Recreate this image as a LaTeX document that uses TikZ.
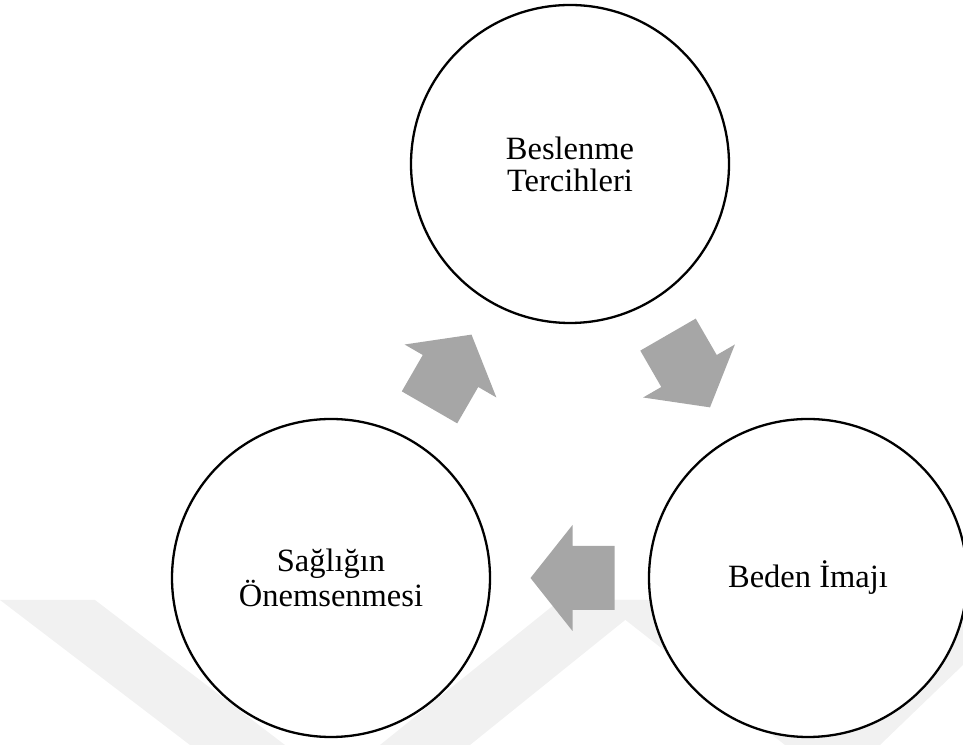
\documentclass[tikz,border=0pt]{standalone}
\usepackage{fontspec}
\setmainfont{Liberation Serif}
\usetikzlibrary{calc}
\definecolor{arrowgray}{RGB}{166,166,166}
\definecolor{markgray}{RGB}{241,241,241}
\tikzset{
  cyc/.style={draw=black, fill=white, line width=2.3bp, circle, minimum size=318bp,
    inner sep=0pt, align=center, font=\fontsize{32.5bp}{32bp}\selectfont},
  cycarrow/.style={fill=arrowgray, draw=none},
  markband/.style={fill=markgray, draw=none}
}
\begin{document}
\begin{tikzpicture}[x=1bp, y=1bp]
  \useasboundingbox (0,0) rectangle (963,745);
  % faint diagonal bands along the bottom
  \fill[markband] (0,145) -- (95,145) -- (285,0) -- (190,0) -- cycle;
  \fill[markband] (380,0) -- (470,0) -- (650,145) -- (560,145) -- cycle;
  \fill[markband] (600,145) -- (690,145) -- (875,0) -- (785,0) -- cycle;
  \fill[markband] (795,0) -- (880,0) -- (963,80) -- (963,145) -- (950,145) -- cycle;
  % the three stages of the cycle
  \node[cyc] (top)   at (570,581) {Beslenme\\Tercihleri};
  \node[cyc] (right) at (808,167) {Beden İmajı};
  \node[cyc] (left)  at (331,167) {Sağlığın\\Önemsenmesi};
  % block arrows halfway between consecutive stages
  \foreach \a/\b/\ang/\dx in {left/top/60/0, top/right/-60/0, right/left/180/3}{
    \begin{scope}[shift={($(\a)!0.5!(\b)+(\dx,0)$)}, rotate=\ang]
      \fill[cycarrow] (42,0) -- (0,53) -- (0,32) -- (-42,32)
        -- (-42,-32) -- (0,-32) -- (0,-53) -- cycle;
    \end{scope}
  }
\end{tikzpicture}
\end{document}
